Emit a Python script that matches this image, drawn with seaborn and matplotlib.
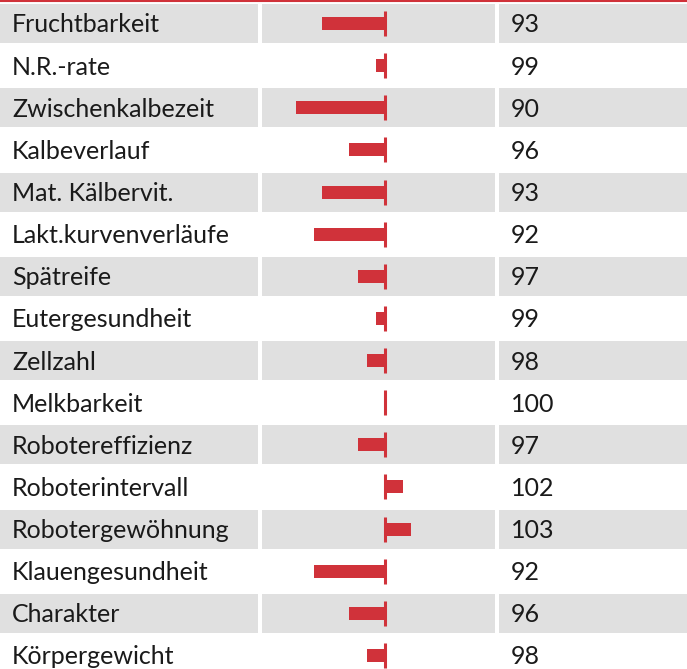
import numpy as np
import pandas as pd
import matplotlib
matplotlib.use("Agg")
import matplotlib.pyplot as plt
import seaborn as sns

# %% Datos
merkmale = ["Fruchtbarkeit", "N.R.-rate", "Zwischenkalbezeit", "Kalbeverlauf",
            "Mat. Kälbervit.", "Lakt.kurvenverläufe", "Spätreife",
            "Eutergesundheit", "Zellzahl", "Melkbarkeit", "Robotereffizienz",
            "Roboterintervall", "Robotergewöhnung", "Klauengesundheit",
            "Charakter", "Körpergewicht"]
werte = [93, 99, 90, 96, 93, 92, 97, 99, 98, 100, 97, 102, 103, 92, 96, 98]
basis = 100

df = pd.DataFrame({"merkmal": merkmale, "wert": werte})
df["abw"] = df["wert"] - basis

# %% Layout (Pixel)
W, H = 687, 669
rot = "#d0323a"
grau = "#e0e0e0"
y0, pitch = 23.5, 42.13
zelle_h = 39
spalten = [(0, 258), (262, 495), (499, 687)]
null_x = 384.7
px_pro_punkt = 8.9

plt.rcParams["font.family"] = ["Lato", "DejaVu Sans"]

fig = plt.figure(figsize=(W / 100, H / 100), dpi=100)
ax_bg = fig.add_axes([0, 0, 1, 1])
ax_bg.set_xlim(0, W)
ax_bg.set_ylim(H, 0)
ax_bg.axis("off")

for i, row in df.iterrows():
    yc = y0 + pitch * i
    if i % 2 == 0:
        for x1, x2 in spalten:
            ax_bg.add_patch(plt.Rectangle((x1, yc - zelle_h / 2), x2 - x1, zelle_h,
                                          color=grau, lw=0))
    ax_bg.text(12, yc + 9, row["merkmal"], va="baseline", ha="left",
               fontsize=18, color="#1a1a1a")
    ax_bg.text(511, yc + 9, str(row["wert"]), va="baseline", ha="left",
               fontsize=18, color="#1a1a1a")

ax_bg.axhline(0.8, color=rot, lw=1.5)

# %% Balken
x1, x2 = spalten[1]
ax = fig.add_axes([x1 / W, 0, (x2 - x1) / W, 1])
ax.patch.set_alpha(0)
sns.barplot(data=df, x="abw", y="merkmal", orient="h", color=rot,
            saturation=1, width=13 / pitch, ax=ax)
pos = np.arange(len(df))
ax.vlines(np.zeros(len(df)), pos - 12.5 / pitch, pos + 12.5 / pitch,
          color=rot, lw=2.2)
ax.set_xlim((x1 - null_x) / px_pro_punkt, (x2 - null_x) / px_pro_punkt)
ax.set_ylim((H - y0) / pitch, -y0 / pitch)
ax.axis("off")

fig.savefig("out.png", dpi=100)
